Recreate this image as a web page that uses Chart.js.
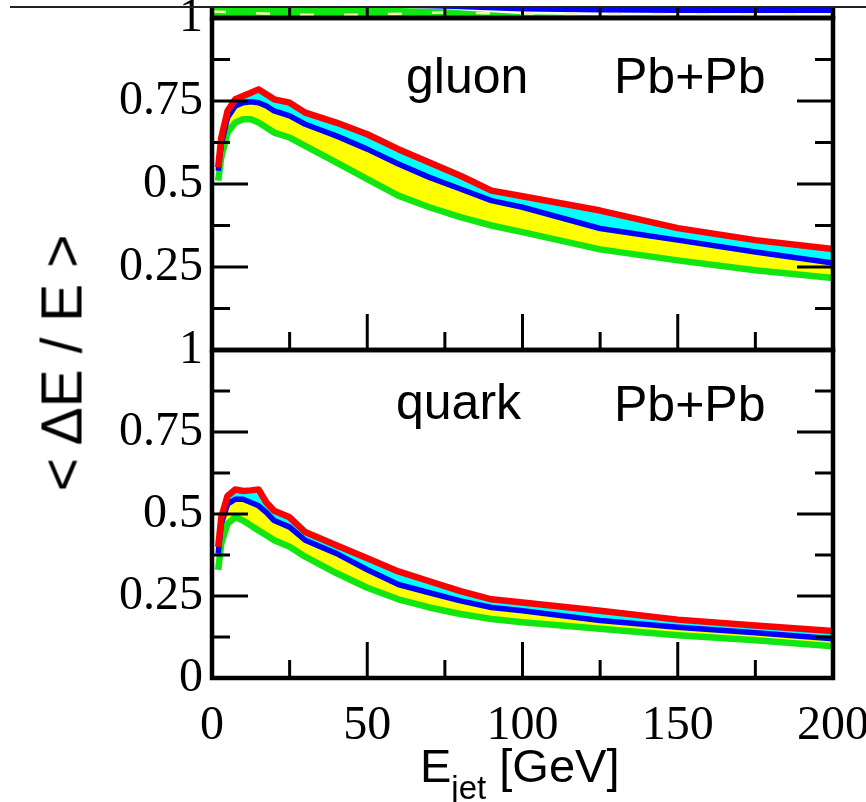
<!DOCTYPE html>
<html>
<head>
<meta charset="utf-8">
<script src="https://cdn.jsdelivr.net/npm/chart.js@4.4.0/dist/chart.umd.min.js"></script>
<style>
  body { margin: 0; background: #fff; }
  #wrap { position: relative; width: 866px; height: 802px; overflow: hidden; }
  canvas { position: absolute; left: 0; top: 0; }
  .lbl { position: absolute; font-family: "Liberation Sans", Arial, sans-serif; line-height: 1; white-space: nowrap; color: #000; }
  #pageLine { position: absolute; left: 10px; top: 6px; width: 856px; height: 2px; background: #222; }
</style>
</head>
<body>
<div id="wrap">
  <canvas id="sliver" width="866" height="802"></canvas>
  <canvas id="gluon" width="866" height="802"></canvas>
  <canvas id="quark" width="866" height="802"></canvas>
  <div id="pageLine"></div>
  <div class="lbl" style="left:406px;top:51px;font-size:50px">gluon</div>
  <div class="lbl" style="left:614px;top:51px;font-size:50px">Pb+Pb</div>
  <div class="lbl" style="left:396px;top:377px;font-size:50px">quark</div>
  <div class="lbl" style="left:614px;top:379px;font-size:50px">Pb+Pb</div>
  <div class="lbl" style="left:62px;top:363px;font-size:57px;transform:translate(-50%,-50%) rotate(-90deg)">&lt; ΔE / E &gt;</div>
  <div class="lbl" style="left:420px;top:742px;font-size:47px">E<span style="font-size:33px;position:relative;top:17px">jet</span> [GeV]</div>
</div>
<script>
// jet energy grid (GeV)
const energies = [2, 3, 5, 7.5, 10, 12.5, 15, 17.5, 20, 25, 30, 40, 50, 60, 70, 80, 90, 100, 125, 150, 175, 200];

// gluon, Pb+Pb
const gluonRed   = [0.55, 0.64, 0.72, 0.755, 0.765, 0.775, 0.785, 0.77, 0.755, 0.745, 0.715, 0.685, 0.65, 0.605, 0.565, 0.525, 0.48, 0.463, 0.42, 0.367, 0.331, 0.304];
const gluonBlue  = [0.54, 0.62, 0.70, 0.735, 0.745, 0.748, 0.745, 0.735, 0.72, 0.705, 0.68, 0.645, 0.605, 0.56, 0.52, 0.485, 0.45, 0.43, 0.366, 0.331, 0.295, 0.262];
const gluonGreen = [0.51, 0.58, 0.655, 0.685, 0.695, 0.695, 0.685, 0.67, 0.655, 0.64, 0.615, 0.565, 0.515, 0.465, 0.43, 0.40, 0.375, 0.355, 0.303, 0.27, 0.24, 0.217];

// quark, Pb+Pb
const quarkRed   = [0.40, 0.49, 0.555, 0.575, 0.57, 0.572, 0.575, 0.535, 0.51, 0.49, 0.445, 0.405, 0.365, 0.325, 0.295, 0.265, 0.24, 0.23, 0.205, 0.178, 0.16, 0.143];
const quarkBlue  = [0.38, 0.47, 0.53, 0.545, 0.545, 0.535, 0.525, 0.505, 0.48, 0.46, 0.42, 0.38, 0.33, 0.285, 0.26, 0.235, 0.215, 0.205, 0.175, 0.155, 0.138, 0.12];
const quarkGreen = [0.33, 0.41, 0.47, 0.49, 0.48, 0.465, 0.45, 0.435, 0.42, 0.40, 0.37, 0.32, 0.275, 0.24, 0.215, 0.195, 0.18, 0.17, 0.15, 0.13, 0.115, 0.097];

// bottom edge of the panel above (cut off in the picture)
const sliverE     = [0, 25, 50, 75, 100, 125, 150, 175, 200];
const sliverGreen = [1, 1, 1, 0.8, 0.35, 0.25, 0.22, 0.2, 0.2];
const sliverBlue  = [1, 1, 1, 0.85, 0.6, 0.5, 0.45, 0.45, 0.45];
const sliverDash  = [0.6, 0.3, 0.3, 0.5, 0.4, 0.35, 0.32, 0.3, 0.3];

// ticks
const xMajor = [50, 100, 150];
const xMinor = [25, 75, 125, 175];
const yMajor = [0.25, 0.5, 0.75];
const yMinor = [0.125, 0.375, 0.625, 0.875];

const pts = (xs, ys) => xs.map((e, i) => ({ x: e, y: ys[i] }));

// inward ticks + thick frame, drawn with the chart's own scales
const frameTicks = {
  id: 'frameTicks',
  afterDatasetsDraw(chart, args, o) {
    const ctx = chart.ctx, a = chart.chartArea;
    const xs = chart.scales.x, ys = chart.scales.y;
    ctx.save();
    ctx.beginPath();
    ctx.rect(a.left, a.top, a.right - a.left, a.bottom - a.top);
    ctx.clip();
    ctx.strokeStyle = '#000';
    ctx.lineWidth = 3;
    ctx.beginPath();
    xMajor.forEach(v => { const p = xs.getPixelForValue(v); ctx.moveTo(p, a.bottom); ctx.lineTo(p, a.bottom - 36); });
    xMinor.forEach(v => { const p = xs.getPixelForValue(v); ctx.moveTo(p, a.bottom); ctx.lineTo(p, a.bottom - 18); });
    if (o.yTicks) {
      yMajor.forEach(v => {
        const p = ys.getPixelForValue(v);
        ctx.moveTo(a.left, p); ctx.lineTo(a.left + 36, p);
        ctx.moveTo(a.right, p); ctx.lineTo(a.right - 36, p);
      });
      yMinor.forEach(v => {
        const p = ys.getPixelForValue(v);
        ctx.moveTo(a.left, p); ctx.lineTo(a.left + 18, p);
        ctx.moveTo(a.right, p); ctx.lineTo(a.right - 18, p);
      });
    }
    ctx.stroke();
    ctx.restore();

    ctx.save();
    ctx.strokeStyle = '#000';
    ctx.lineWidth = 4.5;
    ctx.beginPath();
    ctx.moveTo(a.left, a.top);
    ctx.lineTo(a.left, a.bottom);
    ctx.lineTo(a.right, a.bottom);
    ctx.lineTo(a.right, a.top);
    if (o.top) ctx.lineTo(a.left, a.top);
    ctx.stroke();
    ctx.restore();
  }
};

const serif = { family: '"Liberation Serif", "Times New Roman", serif', size: 48 };

function bandSets(red, blue, green) {
  return [
    { data: pts(energies, red), borderColor: '#ff0000', backgroundColor: '#00ffff', fill: '+1', borderWidth: 6.5 },
    { data: pts(energies, blue), borderColor: '#0000ff', backgroundColor: '#ffff00', fill: '+1', borderWidth: 5.5 },
    { data: pts(energies, green), borderColor: '#11e611', backgroundColor: '#11e611', fill: false, borderWidth: 6.5 }
  ];
}

function panel(id, datasets, padding, showX, hideZero) {
  return new Chart(document.getElementById(id), {
    type: 'line',
    data: { datasets: datasets },
    plugins: [frameTicks],
    options: {
      responsive: false,
      animation: false,
      layout: { padding: padding },
      elements: { point: { radius: 0 }, line: { tension: 0, borderJoinStyle: 'round' } },
      plugins: {
        legend: { display: false },
        tooltip: { enabled: false },
        filler: { drawTime: 'beforeDatasetsDraw' },
        frameTicks: { top: true, yTicks: true }
      },
      scales: {
        x: {
          type: 'linear', min: 0, max: 200,
          display: showX,
          grid: { display: false },
          border: { display: false },
          ticks: { stepSize: 50, font: serif, color: '#000', padding: 12, maxRotation: 0, autoSkip: false },
          afterFit: s => { if (showX) { s.height = 124; s.paddingLeft = 0; s.paddingRight = 0; } }
        },
        y: {
          min: 0, max: 1,
          grid: { display: false },
          border: { display: false },
          ticks: {
            stepSize: 0.25, font: serif, color: '#000', padding: 1, autoSkip: false,
            callback: v => (hideZero && v === 0) ? '' : String(v)
          },
          afterFit: s => { s.width = 212; s.paddingTop = 0; s.paddingBottom = 0; }
        }
      }
    }
  });
}

// top sliver
new Chart(document.getElementById('sliver'), {
  type: 'line',
  data: {
    datasets: [
      { data: pts(sliverE, sliverDash), borderColor: '#f4f4b0', borderWidth: 2.5, borderDash: [14, 30], fill: false },
      { data: pts(sliverE, sliverBlue), borderColor: '#0000ff', backgroundColor: '#0000ff', borderWidth: 0, fill: 'end' },
      { data: pts(sliverE, sliverGreen), borderColor: '#11e611', backgroundColor: '#11e611', borderWidth: 0, fill: 'origin' }
    ]
  },
  plugins: [frameTicks],
  options: {
    responsive: false,
    animation: false,
    layout: { padding: { left: 212, right: 33, top: 7, bottom: 784 } },
    elements: { point: { radius: 0 }, line: { tension: 0 } },
    plugins: { legend: { display: false }, tooltip: { enabled: false }, frameTicks: { top: false, yTicks: false } },
    scales: {
      x: { type: 'linear', min: 0, max: 200, display: false },
      y: { min: 0, max: 1, display: false }
    }
  }
});

panel('gluon', bandSets(gluonRed, gluonBlue, gluonGreen), { left: 0, right: 33, top: 18, bottom: 452 }, false, true);
panel('quark', bandSets(quarkRed, quarkBlue, quarkGreen), { left: 0, right: 33, top: 350, bottom: 0 }, true, false);
</script>
</body>
</html>
